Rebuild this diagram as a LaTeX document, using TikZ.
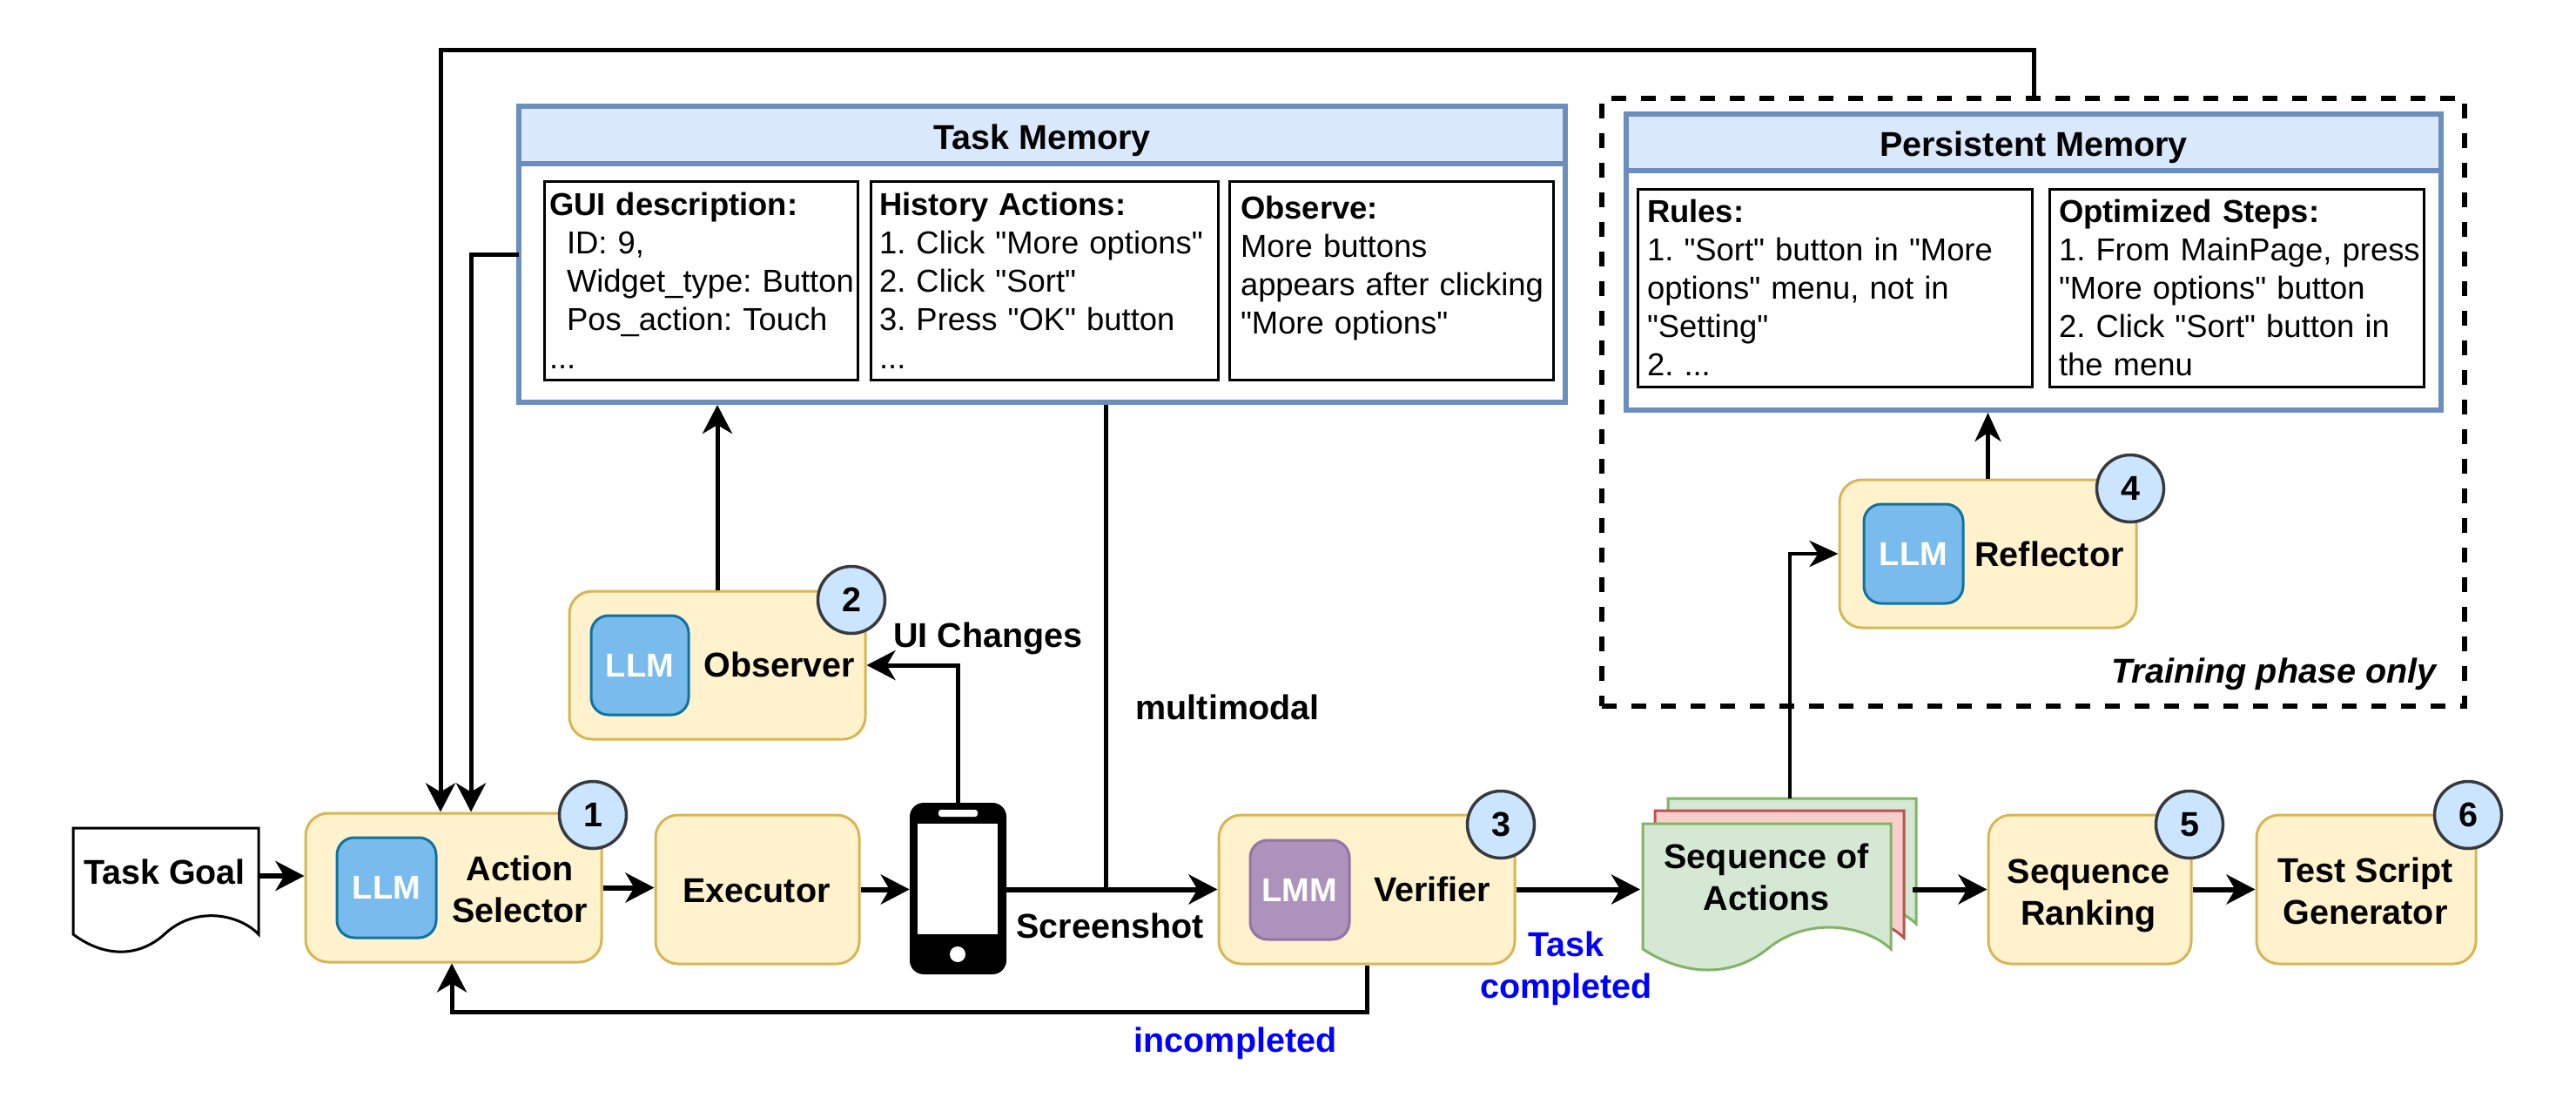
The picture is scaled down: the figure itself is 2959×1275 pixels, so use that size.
\documentclass[tikz,border=0pt]{standalone}
\usepackage{fontspec}
\newfontfamily\lsans{Liberation Sans}
\usetikzlibrary{arrows.meta}
\definecolor{agentfill}{HTML}{FFF2CC}
\definecolor{agentline}{HTML}{D6B656}
\definecolor{llmfill}{HTML}{7ABBEE}
\definecolor{llmline}{HTML}{10739E}
\definecolor{lmmfill}{HTML}{AD92BC}
\definecolor{lmmline}{HTML}{9673A6}
\definecolor{numfill}{HTML}{CCE5FF}
\definecolor{numline}{HTML}{36393D}
\definecolor{memfill}{HTML}{DAE8FC}
\definecolor{memline}{HTML}{6C8EBF}
\definecolor{greenfill}{HTML}{D5E8D4}
\definecolor{greenline}{HTML}{82B366}
\definecolor{pinkfill}{HTML}{F8CECC}
\definecolor{pinkline}{HTML}{B85450}
\definecolor{txtblue}{HTML}{0000FF}
\newcommand{\rectnode}[7]{%
  \pgfmathsetmacro{\nbw}{#5-#3}\pgfmathsetmacro{\nbh}{#6-#4}%
  \pgfmathsetmacro{\nbx}{(#5+#3)/2}\pgfmathsetmacro{\nby}{(#6+#4)/2}%
  \node[#1,minimum width=\nbw pt,minimum height=\nbh pt] (#2) at (\nbx,\nby) {#7};}
\newcommand{\innerbox}[7]{%
  \pgfmathsetmacro{\nbw}{#4-#2}\pgfmathsetmacro{\nbh}{#5-#3}%
  \pgfmathsetmacro{\nbx}{(#4+#2)/2}\pgfmathsetmacro{\nby}{(#5+#3)/2}%
  \pgfmathsetmacro{\nbt}{\nbw-2*#6}%
  \node[memtext,inner xsep=#6 pt,text width=\nbt pt,minimum height=\nbh pt] (#1) at (\nbx,\nby) {#7};}
\newcommand{\ml}[1]{\mbox{#1}}
\tikzset{
  every node/.style={font=\lsans\fontsize{39.5}{48}\selectfont\bfseries,inner sep=0pt,align=center},
  agent/.style={draw=agentline,fill=agentfill,line width=3pt,rounded corners=26pt},
  llm/.style={draw=llmline,fill=llmfill,line width=3pt,rounded corners=20pt,text=white,font=\lsans\fontsize{38}{46}\selectfont\bfseries},
  lmm/.style={draw=lmmline,fill=lmmfill,line width=3pt,rounded corners=20pt,text=white,font=\lsans\fontsize{38}{46}\selectfont\bfseries},
  num/.style={circle,draw=numline,fill=numfill,line width=3.5pt,minimum size=77pt},
  memhead/.style={draw=memline,fill=memfill,line width=6pt},
  membody/.style={draw=memline,fill=white,line width=6pt},
  memtext/.style={draw=black,fill=white,line width=3pt,align=left,font=\lsans\fontsize{36.4}{44}\selectfont\frenchspacing},
  arr/.style={-{Stealth[length=33pt,width=34pt,inset=10pt]},line width=6pt},
  arrthin/.style={-{Stealth[length=33pt,width=30pt,inset=10pt]},line width=4.5pt},
  plain/.style={line width=5pt},
  doc/.style={line width=3pt,line join=miter},
  framebox/.style={draw=black,line width=5.5pt,dash pattern=on 17pt off 17pt}
}
\begin{document}
\begin{tikzpicture}[x=1pt,y=-1pt]
\useasboundingbox (0,0) rectangle (2959,1275);

% training frame
\rectnode{framebox}{frame}{1840}{113}{2831}{811}{}

% task memory
\rectnode{membody}{tm}{596}{122}{1798}{462}{}
\rectnode{memhead}{tmh}{596}{122}{1798}{188}{}
\node (tmt) at (1197,161) {Task Memory};
\innerbox{gui}{625}{208}{985}{436}{6}{\ml{\textbf{GUI description:}}\\\ml{\hspace{20pt}ID: 9,}\\\ml{\hspace{20pt}Widget\_type: Button}\\\ml{\hspace{20pt}Pos\_action: Touch}\\\ml{...}}
\innerbox{hist}{1000}{208}{1399}{436}{10}{\ml{\textbf{History Actions:}}\\\ml{1. Click "More options"}\\\ml{2. Click "Sort"}\\\ml{3. Press "OK" button}\\\ml{...}}
\innerbox{obsv}{1412}{208}{1784}{436}{13}{\ml{\textbf{Observe:}}\\\ml{More buttons}\\\ml{appears after clicking}\\\ml{"More options"}\\[-22pt]\ml{\strut}}

% persistent memory
\rectnode{membody}{pm}{1868}{131}{2804}{471}{}
\rectnode{memhead}{pmh}{1868}{131}{2804}{196}{}
\node (pmt) at (2336,169) {Persistent Memory};
\innerbox{rules}{1881}{217}{2334}{444}{11}{\ml{\textbf{Rules:}}\\\ml{1. "Sort" button in "More}\\\ml{options" menu, not in}\\\ml{"Setting"}\\\ml{2. ...}}
\innerbox{opt}{2354}{217}{2784}{444}{11}{\ml{\textbf{Optimized Steps:}}\\\ml{1. From MainPage, press}\\\ml{"More options" button}\\\ml{2. Click "Sort" button in}\\\ml{the menu}}

% agents
\rectnode{agent}{as}{351}{934}{691}{1105}{}
\rectnode{llm}{asl}{387}{962}{501}{1077}{LLM}
\node (ast) at (597,1021) {Action\\Selector};
\rectnode{agent}{ex}{753}{936}{987}{1107}{}
\node (ext) at (869,1023) {Executor};
\rectnode{agent}{obs}{654}{679}{994}{849}{}
\rectnode{llm}{obsl}{679}{707}{791}{821}{LLM}
\node (obst) at (895,763) {Observer};
\rectnode{agent}{ver}{1400}{936}{1740}{1107}{}
\rectnode{lmm}{verl}{1436}{965}{1550}{1079}{LMM}
\node (vert) at (1645,1021) {Verifier};
\rectnode{agent}{ref}{2113}{551}{2454}{721}{}
\rectnode{llm}{refl}{2141}{579}{2255}{693}{LLM}
\node (reft) at (2354,636) {Reflector};
\rectnode{agent}{rank}{2284}{936}{2517}{1107}{}
\node (rankt) at (2399,1029) {Sequence\\Ranking};
\rectnode{agent}{tsg}{2592}{936}{2844}{1107}{}
\node (tsgt) at (2717,1023) {Test Script\\Generator};

% task goal document
\draw[doc,draw=black,fill=white] (84,951) -- (297,951) -- (297,1073)
  .. controls (275,1050) and (225,1040) .. (190,1072)
  .. controls (160,1100) and (120,1100) .. (84,1073) -- cycle;
\node (tg) at (189,1001) {Task Goal};
\coordinate (tgout) at (297,1006);

% sequence documents
\draw[doc,draw=greenline,fill=greenfill] (1916,917) -- (2201,917) -- (2201,1061)
  .. controls (2173,1034) and (2106,1022) .. (2059,1061)
  .. controls (2019,1093) and (1965,1093) .. (1917,1061) -- cycle;
\draw[doc,draw=pinkline,fill=pinkfill] (1901,931) -- (2187,931) -- (2187,1077)
  .. controls (2158,1049) and (2091,1037) .. (2044,1076)
  .. controls (2004,1108) and (1950,1108) .. (1902,1076) -- cycle;
\draw[doc,draw=greenline,fill=greenfill] (1887,946) -- (2172,946) -- (2172,1090)
  .. controls (2144,1063) and (2077,1051) .. (2030,1090)
  .. controls (1990,1122) and (1936,1122) .. (1887,1090) -- cycle;
\node (seq) at (2029,1007) {Sequence of\\Actions};
\coordinate (seqin) at (1884,1021.5);
\coordinate (seqout) at (2197,1021.5);
\coordinate (seqtop) at (2056,917);

% phone
\rectnode{fill=black,rounded corners=16pt}{ph}{1045}{922}{1156}{1119}{}
\rectnode{fill=white}{phs}{1054}{946}{1146}{1073}{}
\rectnode{fill=white,rounded corners=3pt}{phk}{1078}{930}{1123}{938}{}
\node[circle,fill=white,minimum size=18pt] (phb) at (1100,1096) {};

% connectors
\draw[arr] (tgout) -- (tgout -| as.west);
\draw[arr] (as.east) -- (as.east -| ex.west);
\draw[arr] (ex.east) -- (ex.east -| ph.west);
\draw[arr] (ver.west -| ph.east) -- (ver.west);
\draw[arr] (ver.east) -- (ver.east -| seqin);
\draw[arr] (seqout) -- (seqout -| rank.west);
\draw[arr] (rank.east) -- (rank.east -| tsg.west);
\draw[arr,line width=5pt] (ph.north) |- (obs.east);
\draw[arr,line width=5pt] (obs.north) -- (obs.north |- tm.south);
\coordinate (mmj) at (1270,1021.5);
\draw[plain] (mmj |- tm.south) -- (mmj);
\coordinate (tmout) at (596,292);
\coordinate (tmbend) at (541,292);
\draw[arr,line width=5pt] (tmout) -- (tmbend) -- (tmbend |- as.north);
\coordinate (topbend) at (506,57);
\draw[arr,line width=5pt] (pm.north |- frame.north) |- (topbend) -- (topbend |- as.north);
\coordinate (loopy) at (519,1162);
\draw[arr,line width=5pt] (ver.south) -- (ver.south |- loopy) -- (loopy) -- (loopy |- as.south);
\draw[arrthin] (seqtop) |- (ref.west);
\draw[arrthin] (ref.north) -- (ref.north |- pm.south);

% step numbers
\node[num] (n1) at (681,936) {1};
\node[num] (n2) at (978,689) {2};
\node[num] (n3) at (1724,947) {3};
\node[num] (n4) at (2447,561) {4};
\node[num] (n5) at (2515,947) {5};
\node[num] (n6) at (2835,936) {6};

% labels
\node (lui) at (1135,733) {UI Changes};
\node (lmm) at (1410,812) {multimodal};
\node (lss) at (1275,1063) {Screenshot};
\node[text=txtblue] (ltc) at (1799,1112) {Task\\completed};
\node[text=txtblue] (lic) at (1419,1198) {incompleted};
\node[font=\lsans\fontsize{39.6}{48}\selectfont\bfseries\itshape] (ltp) at (2612,774) {Training phase only};
\end{tikzpicture}
\end{document}
